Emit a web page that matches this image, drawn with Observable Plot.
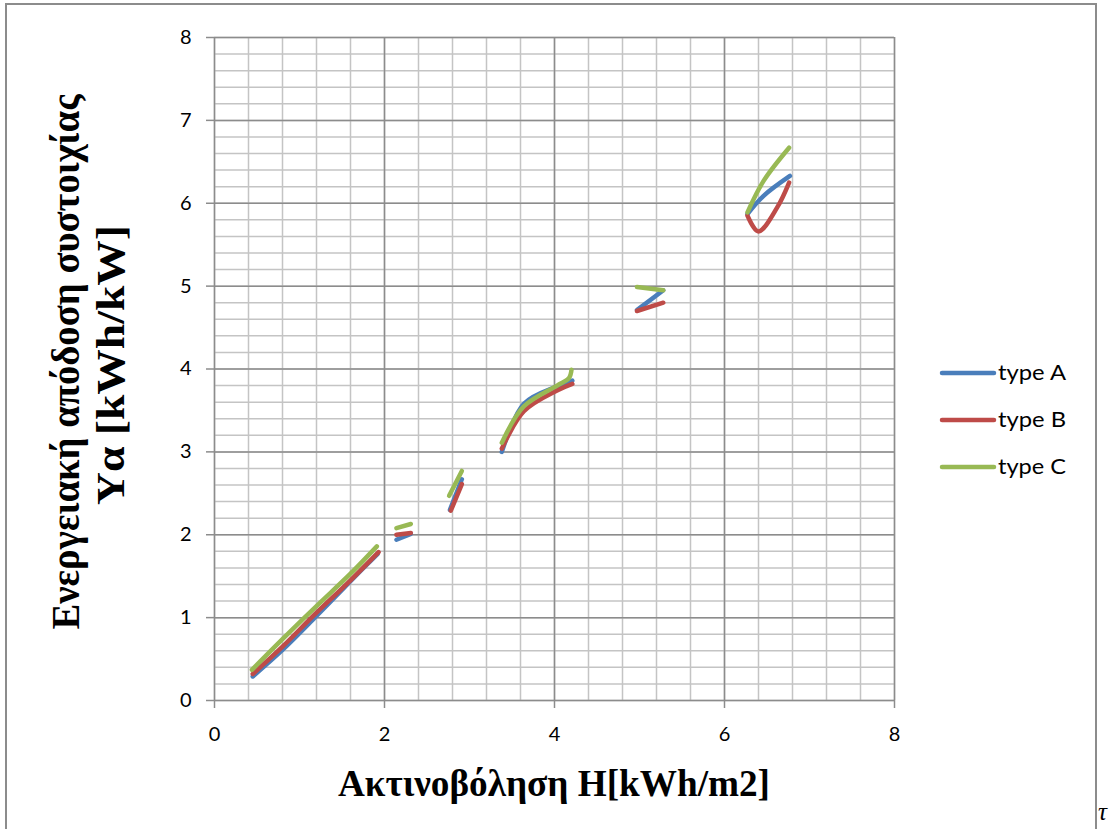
<!DOCTYPE html>
<html><head><meta charset="utf-8">
<script src="https://cdn.jsdelivr.net/npm/d3@7"></script>
<script src="https://cdn.jsdelivr.net/npm/@observablehq/plot@0.6"></script>
<style>
body{margin:0;background:#fff;}
#wrap{position:relative;width:1113px;height:829px;overflow:hidden;background:#fff;}
#frame{position:absolute;left:5px;top:3px;width:1092px;height:900px;border:2px solid #8c8c8c;box-sizing:border-box;pointer-events:none;}
#tau{position:absolute;left:1098px;top:798px;font:italic 25px "Liberation Serif";color:#000;}
#chart svg{display:block;}
</style></head>
<body><div id="wrap"><div id="chart"></div><div id="frame"></div><div id="tau">τ</div></div>
<script>
const seriesNames = ["type A", "type B", "type C"];
const seriesColors = ["#4A7EBB", "#BE4B48", "#98B954"];
const xTicks = [0, 2, 4, 6, 8];
const yTicks = [0, 1, 2, 3, 4, 5, 6, 7, 8];
const xTitle = "Ακτινοβόληση H[kWh/m2]";
const yTitle1 = "Ενεργειακή απόδοση συστοιχίας";
const yTitle2 = "Yα [kWh/kW]";
// [segment, H, Ya]
const typeA = [
  [1, 0.45, 0.29], [1, 0.8, 0.61], [1, 1.2, 1.02], [1, 1.6, 1.44], [1, 1.92, 1.77],
  [2, 2.14, 1.94], [2, 2.31, 2.01],
  [3, 2.77, 2.30], [3, 2.91, 2.67],
  [4, 3.38, 3.00], [4, 3.64, 3.58], [4, 4.03, 3.79], [4, 4.21, 3.86],
  [5, 4.97, 4.71], [5, 5.28, 4.95],
  [6, 6.27, 5.87], [6, 6.46, 6.09], [6, 6.77, 6.33]
];
const typeB = [
  [1, 0.45, 0.32], [1, 0.8, 0.65], [1, 1.2, 1.06], [1, 1.6, 1.45], [1, 1.93, 1.79],
  [2, 2.14, 2.00], [2, 2.31, 2.02],
  [3, 2.78, 2.29], [3, 2.91, 2.61],
  [4, 3.38, 3.04], [4, 3.64, 3.49], [4, 4.03, 3.74], [4, 4.21, 3.82],
  [5, 4.97, 4.70], [5, 5.28, 4.80],
  [6, 6.27, 5.85], [6, 6.40, 5.66], [6, 6.62, 5.95], [6, 6.76, 6.25]
];
const typeC = [
  [1, 0.44, 0.37], [1, 0.8, 0.74], [1, 1.2, 1.14], [1, 1.6, 1.53], [1, 1.91, 1.86],
  [2, 2.14, 2.08], [2, 2.31, 2.13],
  [3, 2.76, 2.47], [3, 2.91, 2.77],
  [4, 3.38, 3.11], [4, 3.64, 3.55], [4, 4.03, 3.80], [4, 4.17, 3.89], [4, 4.20, 3.99],
  [5, 4.97, 4.99], [5, 5.28, 4.95],
  [6, 6.27, 5.89], [6, 6.46, 6.27], [6, 6.76, 6.67]
];

const rows = [typeA, typeB, typeC].flatMap((arr, i) =>
  arr.map(([s, x, y]) => ({series: seriesNames[i], key: seriesNames[i] + "-" + s, x, y})));

const minorX = d3.range(0, 21).map(i => +(i * 0.4).toFixed(2));
const minorY = d3.range(0, 41).map(i => +(i * 0.2).toFixed(2));
const gridMinor = "#c4c4c4", gridMajor = "#8c8c8c";

const plot = Plot.plot({
  width: 1113, height: 829,
  marginLeft: 214, marginRight: 219, marginTop: 37, marginBottom: 129,
  style: {fontFamily: "Lato", fontSize: "20px", color: "#000", background: "transparent"},
  x: {domain: [0, 8], label: null},
  y: {domain: [0, 8], label: null},
  color: {domain: seriesNames, range: seriesColors},
  marks: [
    Plot.gridX(minorX, {stroke: gridMinor, strokeOpacity: 1, strokeWidth: 1.5}),
    Plot.gridY(minorY, {stroke: gridMinor, strokeOpacity: 1, strokeWidth: 1.5}),
    Plot.gridX(xTicks.filter(t => t > 0), {stroke: gridMajor, strokeOpacity: 1, strokeWidth: 1.5}),
    Plot.gridY(yTicks.filter(t => t > 0), {stroke: gridMajor, strokeOpacity: 1, strokeWidth: 1.5}),
    Plot.ruleX([0], {stroke: gridMajor, strokeWidth: 1.5}),
    Plot.ruleY([0], {stroke: gridMajor, strokeWidth: 1.5}),
    Plot.axisX(xTicks, {tickSize: 8, tickPadding: 18, stroke: gridMajor, strokeWidth: 1.5, fill: "#000",
      label: null, fontSize: 20, tickFormat: d => String(d)}),
    Plot.axisY(yTicks, {tickSize: 8, tickPadding: 15, stroke: gridMajor, strokeWidth: 1.5, fill: "#000",
      label: null, fontSize: 20, tickFormat: d => String(d)}),
    Plot.line(rows, {x: "x", y: "y", z: "key", stroke: "series", strokeWidth: 4.5,
      curve: "catmull-rom", strokeLinecap: "round", strokeLinejoin: "round"})
  ]
});
document.getElementById("chart").appendChild(plot);

const svg = d3.select(plot);
const serif = "'Liberation Serif', 'Times New Roman', serif";
svg.append("text")
  .attr("x", 554).attr("y", 796)
  .attr("text-anchor", "middle")
  .attr("font-family", serif).attr("font-weight", "bold").attr("font-size", 38)
  .attr("fill", "#000")
  .attr("textLength", 432).attr("lengthAdjust", "spacingAndGlyphs")
  .text(xTitle);
svg.append("text")
  .attr("transform", "translate(79,362) rotate(-90)")
  .attr("text-anchor", "middle")
  .attr("font-family", serif).attr("font-weight", "bold").attr("font-size", 40)
  .attr("fill", "#000")
  .attr("textLength", 535).attr("lengthAdjust", "spacingAndGlyphs")
  .text(yTitle1);
svg.append("text")
  .attr("transform", "translate(124,365) rotate(-90)")
  .attr("text-anchor", "middle")
  .attr("font-family", serif).attr("font-weight", "bold").attr("font-size", 40)
  .attr("fill", "#000")
  .attr("textLength", 280).attr("lengthAdjust", "spacingAndGlyphs")
  .text(yTitle2);

// legend
const legendY = [373, 420, 467];
const lg = svg.append("g");
seriesNames.forEach((name, i) => {
  lg.append("line")
    .attr("x1", 942).attr("x2", 994).attr("y1", legendY[i]).attr("y2", legendY[i])
    .attr("stroke", seriesColors[i]).attr("stroke-width", 4.5).attr("stroke-linecap", "round");
  lg.append("text")
    .attr("x", 998).attr("y", legendY[i]).attr("dy", "0.35em")
    .attr("text-anchor", "start")
    .attr("font-family", "Lato").attr("font-size", 21).attr("fill", "#000")
    .attr("textLength", 68).attr("lengthAdjust", "spacingAndGlyphs")
    .text(name);
});
</script>
</body></html>
